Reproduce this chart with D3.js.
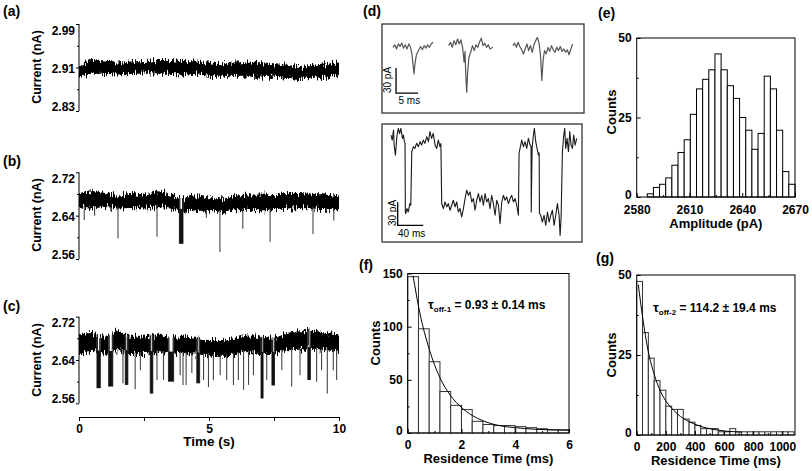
<!DOCTYPE html>
<html lang="en">
<head>
<meta charset="UTF-8" />
<title>Current traces and residence time histograms</title>
<script src="https://d3js.org/d3.v7.min.js"></script>
<style>
  body { margin: 0; background: #fff; }
  svg { display: block; font-family: "Liberation Sans", Arial, sans-serif; }
  .tick text { font-weight: bold; font-size: 12px; fill: #000; }
  .tick line { stroke: #000; }
</style>
</head>
<body>
<div id="chart"></div>
<script>
  // ---------- data ----------
  // (a)-(c): current traces, envelope of the noise band every 0.5 s (nA)
  const traceTimes = [0, 0.5, 1, 1.5, 2, 2.5, 3, 3.5, 4, 4.5, 5, 5.5, 6, 6.5, 7, 7.5, 8, 8.5, 9, 9.5, 10];

  const aUpper = [2.913, 2.924, 2.921, 2.919, 2.921, 2.922, 2.924, 2.924, 2.922, 2.921, 2.919, 2.918, 2.919, 2.919, 2.918, 2.916, 2.915, 2.911, 2.913, 2.916, 2.919];
  const aLower = [2.891, 2.899, 2.898, 2.897, 2.898, 2.899, 2.899, 2.898, 2.897, 2.897, 2.895, 2.893, 2.893, 2.893, 2.893, 2.893, 2.891, 2.889, 2.891, 2.893, 2.895];

  const bUpper = [2.679, 2.685, 2.682, 2.679, 2.682, 2.679, 2.685, 2.679, 2.672, 2.676, 2.672, 2.672, 2.676, 2.679, 2.679, 2.678, 2.682, 2.682, 2.680, 2.679, 2.676];
  const bLower = [2.656, 2.653, 2.656, 2.653, 2.654, 2.653, 2.656, 2.653, 2.647, 2.650, 2.647, 2.645, 2.650, 2.651, 2.650, 2.650, 2.653, 2.654, 2.653, 2.651, 2.650];
  // events: [start (s), end (s), lowest current (nA)]
  const bEvents = [
    [0.2, 0.2, 2.632], [0.6, 0.6, 2.640], [1.5, 1.5, 2.598], [3.0, 3.0, 2.601],
    [3.86, 4.0, 2.588], [4.9, 4.9, 2.636], [5.42, 5.42, 2.573], [6.3, 6.3, 2.616],
    [7.35, 7.35, 2.592], [9.0, 9.0, 2.606], [9.8, 9.8, 2.631]
  ];

  const cUpper = [2.687, 2.690, 2.683, 2.693, 2.683, 2.683, 2.687, 2.683, 2.683, 2.681, 2.677, 2.677, 2.681, 2.687, 2.683, 2.681, 2.690, 2.693, 2.694, 2.690, 2.687];
  const cLower = [2.651, 2.655, 2.651, 2.658, 2.651, 2.651, 2.655, 2.651, 2.651, 2.650, 2.649, 2.646, 2.649, 2.655, 2.651, 2.651, 2.658, 2.659, 2.661, 2.658, 2.655];
  const cEvents = [
    [0.69, 0.82, 2.588], [1.14, 1.30, 2.591], [1.69, 1.69, 2.597], [1.78, 1.88, 2.594],
    [2.16, 2.16, 2.586], [2.36, 2.36, 2.621], [2.74, 2.84, 2.578], [3.0, 3.0, 2.603],
    [3.25, 3.25, 2.603], [3.44, 3.64, 2.600], [3.89, 3.89, 2.612], [4.0, 4.0, 2.594],
    [4.12, 4.12, 2.594], [4.34, 4.34, 2.616], [4.53, 4.64, 2.597], [4.79, 4.79, 2.603],
    [4.98, 4.98, 2.590], [5.17, 5.17, 2.603], [5.43, 5.43, 2.612], [5.68, 5.68, 2.603],
    [5.94, 5.94, 2.594], [6.13, 6.13, 2.603], [6.33, 6.33, 2.585], [6.52, 6.52, 2.594],
    [6.71, 6.71, 2.612], [7.0, 7.08, 2.569], [7.22, 7.22, 2.603], [7.42, 7.52, 2.593],
    [7.8, 7.8, 2.621], [8.18, 8.18, 2.591], [8.5, 8.5, 2.612], [8.8, 8.9, 2.603],
    [9.14, 9.14, 2.600], [9.33, 9.33, 2.621], [9.55, 9.55, 2.578], [9.78, 9.78, 2.621],
    [9.91, 9.91, 2.603]
  ];

  // (d) top: three single events [time (ms), current (pA)]
  const dSnip1 = [[2.5,0],[2.9,3],[3.3,-2],[3.7,4],[4.1,1],[4.5,5],[4.9,-1],[5.3,3],[5.7,-2],[6.1,4],[6.5,0],[6.8,-8],[7.1,-22],[7.3,-32],[7.5,-20],[7.8,-10],[8.1,-6],[8.4,-3],[8.8,1],[9.2,-3],[9.6,2],[10.0,-1],[10.4,3],[10.8,0],[11.2,4],[11.6,6]];
  const dSnip2 = [[15.2,2],[15.6,6],[16.0,0],[16.4,8],[16.8,3],[17.2,10],[17.6,4],[18.0,9],[18.4,-2],[18.7,-18],[18.9,-5],[19.1,-35],[19.3,-54],[19.5,-30],[19.8,-12],[20.2,-6],[20.6,2],[21.0,-4],[21.4,3],[21.8,0],[22.2,6],[22.6,11],[23.0,2],[23.4,5],[23.8,0],[24.2,3],[24.6,-2],[25.2,0]];
  const dSnip3 = [[29.8,2],[30.2,5],[30.6,0],[31.0,6],[31.4,1],[31.8,-3],[32.2,-8],[32.6,-2],[33.0,4],[33.4,-4],[33.8,2],[34.2,-6],[34.6,3],[35.0,8],[35.4,12],[35.8,4],[36.1,-10],[36.4,-40],[36.7,-15],[37.0,-4],[37.4,-8],[37.8,0],[38.2,-5],[38.6,2],[39.0,-3],[39.4,-6],[39.8,0],[40.2,-4],[40.6,1],[41.0,-5],[41.4,-2],[41.8,-6],[42.2,-3],[42.6,-9],[43.0,-2],[43.4,4]];

  // (d) bottom: long trace [time (ms), current (pA)]
  const dTrace = [
    [14,13],[16,6.5],[18,19.5],[19,0],[21,-13],[23.5,13],[25.5,21.7],[27.5,15],[29.5,21.7],[32,8.7],[33.5,13],[35,4.4],[36,2],
    [36.5,-86.6],[37,-88.7],[39,-82.2],[41,-86.6],[43.5,-75.7],[45,-78],
    [46.5,-8.6],[49,-2.1],[51.5,-4.3],[54,2.2],[57,-2.1],[59.5,4.4],[62,0],[64.5,6.5],[67,2.2],[70,10.9],[72.5,4.4],[75,17.4],[77.5,8.7],[80,15.2],[83,0],[85.5,-4.3],[88,6.5],[90.5,-2.1],[92,2],
    [93.3,-75.7],[95.9,-82.2],[98.5,-73.6],[101.1,-80.1],[103.7,-75.7],[106.3,-84.4],[108.9,-77.9],[111.5,-71.4],[114.1,-80.1],[116.7,-73.6],
    [119.3,-86.6],[121.9,-82.2],[124.5,-93.1],[127.2,-82.2],[129.8,-69.3],[132.4,-58.4],[135,-65],[137.6,-60.6],[140.2,-73.6],[142.8,-69.3],
    [145.4,-84.4],[148,-71.4],[150.6,-62.8],[153.2,-73.6],[155.8,-65],[158.4,-77.9],[161,-62.8],[163.6,-73.6],[166.2,-69.3],[168.8,-82.2],
    [171.4,-65],[174,-75.7],[176.7,-90.9],[179.3,-71.4],[181.9,-77.9],[184.5,-101.7],[187.1,-73.6],[189.7,-65],[192.3,-71.4],[194.9,-67.1],
    [197.5,-75.7],[200.1,-69.3],[202.7,-65],[205.3,-73.6],[207.9,-69.3],[210.5,-77.9],[213.1,-90.9],
    [214.2,-10],[215.7,-4.3],[218.3,6.5],[220.9,-2.1],[223.5,4.4],[226.1,-4.3],[228.7,8.7],[231.4,0],[232.9,-2],
    [233.2,-86.6],[234.5,-4.3],[236.6,13],[238.1,21.7],[240.2,4.4],[242.3,-4.3],[244.4,-13],[245.6,-10],
    [246,-88],[248,-90.9],[250.6,-99.6],[253.2,-90.9],[255.9,-103.9],[258.5,-86.6],[261.1,-99.6],[263.7,-90.9],[266.3,-84.4],[268.9,-103.9],
    [271.5,-90.9],[274.1,-75.7],[276.7,-90.9],[278.3,-116.9],[279.8,-95],
    [281.9,-8.6],[284,13],[285.5,21.7],[287.1,-4.3],[289.2,8.7],[291.3,-8.6],[293.4,17.4],[295.4,0],[297.5,-4.3],[299.6,13],[301.7,0],[304.3,8.7]
  ];

  // (e) amplitude histogram
  const ampBinStart = 2586, ampBinWidth = 3.5;
  const ampCounts = [1, 3, 4, 6, 10, 14, 18, 26, 34, 37, 40, 45, 40, 35, 31, 25, 21, 15, 20, 38, 34, 21, 8, 4];

  // (f) short residence times
  const fBinWidth = 0.4;
  const fCounts = [147, 98, 67, 39, 26, 22, 11, 8, 7, 7, 6, 5, 4, 3, 3];
  const fFit = [[0.2,148],[0.45,113],[0.8,79],[1.2,52],[1.6,35],[2.0,24],[2.4,16.5],[2.8,11.5],[3.4,7],[4.0,5],[4.7,3.6],[5.3,3],[6,2.6]];

  // (g) long residence times
  const gBinWidth = 40;
  const gCounts = [48, 32, 24, 17, 14, 9, 8, 8, 5, 4, 3, 2, 2, 2, 1, 1, 2, 1, 1, 1, 1, 1, 1, 1, 1, 1, 1];
  const gFit = [[11,47],[40,37],[80,26],[120,19],[165,13.5],[210,10],[252,7.8],[300,5.8],[355,4.3],[420,3],[480,2.2],[560,1.5],[640,1.1],[720,0.9]];

  // ---------- drawing ----------
  const svg = d3.select("#chart").append("svg").attr("width", 812).attr("height", 471);
  const defs = svg.append("defs");

  // jagged edge for the dense noise bands
  const jag = defs.append("filter").attr("id", "jag")
    .attr("x", "-2%").attr("y", "-80%").attr("width", "104%").attr("height", "260%")
    .attr("color-interpolation-filters", "sRGB");
  jag.append("feTurbulence").attr("type", "fractalNoise").attr("baseFrequency", "0.9 0.12")
    .attr("numOctaves", 2).attr("seed", 7).attr("result", "noise");
  jag.append("feColorMatrix").attr("in", "noise").attr("type", "matrix")
    .attr("values", "1 0 0 0 0  0 0 0 0 0.5  0 0 0 0 0  0 0 0 0 1").attr("result", "map");
  jag.append("feDisplacementMap").attr("in", "SourceGraphic").attr("in2", "map")
    .attr("scale", 14).attr("xChannelSelector", "G").attr("yChannelSelector", "R");

  function panelLabel(txt, x, y, anchor) {
    svg.append("text").attr("x", x).attr("y", y).attr("text-anchor", anchor || "start")
      .style("font-weight", "bold").style("font-size", "14px").text(txt);
  }

  function rotLabel(txt, x, y, size) {
    svg.append("text").attr("transform", `translate(${x},${y}) rotate(-90)`)
      .attr("text-anchor", "middle").style("font-weight", "bold")
      .style("font-size", (size || 13) + "px").text(txt);
  }

  const xT = d3.scaleLinear().domain([0, 10]).range([79, 339]);

  function tracePanel(upper, lower, events, ticks, top, bot) {
    const y = d3.scaleLinear().domain([ticks[0], ticks[2]]).range([bot, top]);
    const g = svg.append("g");
    const upAt = d3.scaleLinear().domain(traceTimes).range(upper);
    const loAt = d3.scaleLinear().domain(traceTimes).range(lower);

    const band = d3.area()
      .x((d, i) => xT(traceTimes[i]))
      .y0((d, i) => y(lower[i]))
      .y1(d => y(d))
      .curve(d3.curveMonotoneX);
    g.append("path").datum(upper).attr("d", band).attr("fill", "#000").attr("filter", "url(#jag)");

    events.forEach(([t0, t1, lvl]) => {
      if (t1 > t0) {
        const w = xT(t1) - xT(t0);
        // the trace leaves the open-pore band during a dwell
        g.append("rect").attr("x", xT(t0) + 1).attr("width", Math.max(w - 2, 0.8))
          .attr("y", y(upAt(t0)) - 6).attr("height", y(loAt(t0)) - y(upAt(t0)) + 4)
          .attr("fill", "#fff");
        [t0, t1].forEach(t => {
          g.append("line").attr("x1", xT(t)).attr("x2", xT(t))
            .attr("y1", y(upAt(t))).attr("y2", y(lvl))
            .attr("stroke", "#444").attr("stroke-width", 1);
        });
        g.append("rect").attr("x", xT(t0)).attr("width", Math.max(w, 1.5))
          .attr("y", y(loAt(t0)) - 2).attr("height", y(lvl) - y(loAt(t0)) + 2)
          .attr("fill", "#111");
      } else {
        g.append("line").attr("x1", xT(t0)).attr("x2", xT(t0))
          .attr("y1", y(loAt(t0)) - 2).attr("y2", y(lvl))
          .attr("stroke", "#444").attr("stroke-width", 1.1);
      }
    });

    // y axis, bracket style
    const ax = g.append("g").attr("transform", "translate(79,0)")
      .call(d3.axisLeft(y).tickValues(ticks).tickSizeInner(3).tickSizeOuter(0).tickPadding(1)
        .tickFormat(d3.format(".2f")));
    ax.select(".domain").remove();
    ax.selectAll(".tick text").attr("dy", (d, i) => i === 0 ? "-0.05em" : i === 2 ? "0.85em" : "0.4em");
    g.append("g").attr("transform", "translate(79,0)")
      .call(d3.axisLeft(y).tickValues([(ticks[0] + ticks[1]) / 2, (ticks[1] + ticks[2]) / 2])
        .tickSizeInner(2).tickSizeOuter(0).tickFormat(""))
      .select(".domain").remove();
    g.append("line").attr("x1", 79).attr("x2", 79).attr("y1", top).attr("y2", bot)
      .attr("stroke", "#000");
    return y;
  }

  // (a)
  panelLabel("(a)", 3, 16);
  tracePanel(aUpper, aLower, [], [2.83, 2.91, 2.99], 24, 111);
  rotLabel("Current (nA)", 41, 67, 12.5);

  // (b)
  panelLabel("(b)", 3, 166);
  tracePanel(bUpper, bLower, bEvents, [2.56, 2.64, 2.72], 172.3, 259);
  rotLabel("Current (nA)", 41, 215, 12.5);

  // (c)
  panelLabel("(c)", 3, 311);
  tracePanel(cUpper, cLower, cEvents, [2.56, 2.64, 2.72], 316.7, 403.3);
  rotLabel("Current (nA)", 41, 360, 12.5);

  const tAx = svg.append("g").attr("transform", "translate(0,417)")
    .call(d3.axisBottom(xT).tickValues([0, 5, 10]).tickSizeInner(4).tickSizeOuter(0).tickPadding(3));
  svg.append("g").attr("transform", "translate(0,417)")
    .call(d3.axisBottom(xT).tickValues([2.5, 7.5]).tickSizeInner(4).tickSizeOuter(0).tickFormat(""))
    .select(".domain").remove();
  tAx.select(".domain").attr("stroke", "#000");
  svg.append("text").attr("x", 209).attr("y", 446).attr("text-anchor", "middle")
    .style("font-weight", "bold").style("font-size", "13.5px").text("Time (s)");

  // (d)
  panelLabel("(d)", 381, 16, "end");
  const dTopX = d3.scaleLinear().domain([0, 46]).range([382, 584]);
  const dTopY = d3.scaleLinear().domain([-79, 28]).range([113, 24]);
  const dBotX = d3.scaleLinear().domain([0, 312.5]).range([382, 582]);
  const dBotY = d3.scaleLinear().domain([-125.5, 27.3]).range([242, 124]);

  svg.append("rect").attr("x", 382).attr("y", 24).attr("width", 202).attr("height", 89)
    .attr("fill", "none").attr("stroke", "#333").attr("stroke-width", 1.3);
  svg.append("rect").attr("x", 382).attr("y", 124).attr("width", 200).attr("height", 118)
    .attr("fill", "none").attr("stroke", "#333").attr("stroke-width", 1.3);

  const topLine = d3.line().x(d => dTopX(d[0])).y(d => dTopY(d[1]));
  [dSnip1, dSnip2, dSnip3].forEach(s => {
    svg.append("path").datum(s).attr("d", topLine).attr("fill", "none")
      .attr("stroke", "#555").attr("stroke-width", 1.2).attr("stroke-linejoin", "round");
  });
  const botLine = d3.line().x(d => dBotX(d[0])).y(d => dBotY(d[1]));
  svg.append("path").datum(dTrace).attr("d", botLine).attr("fill", "none")
    .attr("stroke", "#1a1a1a").attr("stroke-width", 1.1).attr("stroke-linejoin", "round");

  // scale bars
  function scaleBar(xs, ys, t, p, dt, dp, txtT, txtX, txtY, lblX, lblY) {
    svg.append("path")
      .attr("d", `M${xs(t)},${ys(p + dp)}V${ys(p)}H${xs(t + dt)}`)
      .attr("fill", "none").attr("stroke", "#000").attr("stroke-width", 1.3);
    svg.append("text").attr("transform", `translate(${lblX},${lblY}) rotate(-90)`)
      .attr("text-anchor", "middle").style("font-size", "10px").text(`${dp} pA`);
    svg.append("text").attr("x", txtX).attr("y", txtY).style("font-size", "10px").text(txtT);
  }
  scaleBar(dTopX, dTopY, 3.2, -55, 5, 30, "5 ms", 398.5, 103.5, 391, 80);
  scaleBar(dBotX, dBotY, 24.5, -104, 40, 30, "40 ms", 398, 236.5, 395.5, 213);

  // histogram panels
  function histPanel(o) {
    const x = d3.scaleLinear().domain(o.xDom).range([o.x0, o.x1]);
    const y = d3.scaleLinear().domain(o.yDom).range([o.y0, o.y1]);
    const g = svg.append("g");
    g.selectAll("rect.bar").data(o.counts).join("rect").attr("class", "bar")
      .attr("x", (d, i) => x(o.binStart + i * o.binWidth))
      .attr("width", x(o.binStart + o.binWidth) - x(o.binStart))
      .attr("y", d => y(d))
      .attr("height", d => y(0) - y(d))
      .attr("fill", "#fff").attr("stroke", o.barStroke).attr("stroke-width", 1);
    if (o.fit) {
      g.append("path").datum(o.fit)
        .attr("d", d3.line().x(d => x(d[0])).y(d => y(d[1])).curve(d3.curveMonotoneX))
        .attr("fill", "none").attr("stroke", "#000").attr("stroke-width", 1);
    }
    const xa = g.append("g").attr("transform", `translate(0,${o.y0})`)
      .call(d3.axisBottom(x).tickValues(o.xTicks).tickSizeInner(-4).tickSizeOuter(0).tickPadding(o.xPad || 7)
        .tickFormat(d3.format("d")));
    xa.select(".domain").remove();
    g.append("g").attr("transform", `translate(0,${o.y0})`)
      .call(d3.axisBottom(x).tickValues(o.xMinor).tickSizeInner(-2).tickSizeOuter(0).tickFormat(""))
      .select(".domain").remove();
    const ya = g.append("g").attr("transform", `translate(${o.x0},0)`)
      .call(d3.axisLeft(y).tickValues(o.yTicks).tickSizeInner(-4).tickSizeOuter(0).tickPadding(5)
        .tickFormat(d3.format("d")));
    ya.select(".domain").remove();
    // lift the zero label slightly clear of the x labels
    ya.selectAll(".tick text").filter(d => d === 0).attr("dy", "0.1em");
    g.append("g").attr("transform", `translate(${o.x0},0)`)
      .call(d3.axisLeft(y).tickValues(o.yMinor).tickSizeInner(-2).tickSizeOuter(0).tickFormat(""))
      .select(".domain").remove();
    g.append("rect").attr("x", o.x0).attr("y", o.y1).attr("width", o.x1 - o.x0).attr("height", o.y0 - o.y1)
      .attr("fill", "none").attr("stroke", "#000").attr("stroke-width", 1);
    svg.append("text").attr("x", (o.x0 + o.x1) / 2).attr("y", o.xTitleY).attr("text-anchor", "middle")
      .style("font-weight", "bold").style("font-size", "13px").text(o.xTitle);
    rotLabel("Counts", o.yTitleX, o.yTitleY, 13);
  }

  function tauLabel(x, y, sub, rest) {
    const t = svg.append("text").attr("x", x).attr("y", y).style("font-weight", "bold");
    t.append("tspan").style("font-size", "13px").text("τ");
    t.append("tspan").style("font-size", "8px").attr("dy", 3).text(sub);
    t.append("tspan").style("font-size", "12px").attr("dy", -3).text(rest);
  }

  // (e)
  panelLabel("(e)", 598, 18);
  histPanel({
    x0: 636.7, x1: 795, y0: 197, y1: 38,
    xDom: [2580, 2670], yDom: [0, 50],
    xTicks: [2580, 2610, 2640, 2670], xMinor: [2595, 2625, 2655],
    yTicks: [0, 25, 50], yMinor: [12.5, 37.5],
    counts: ampCounts, binStart: ampBinStart, binWidth: ampBinWidth, barStroke: "#000", xPad: 8,
    xTitle: "Amplitude (pA)", xTitleY: 228, yTitleX: 616, yTitleY: 112
  });

  // (f)
  panelLabel("(f)", 359, 270);
  histPanel({
    x0: 407.7, x1: 569, y0: 433, y1: 273.5,
    xDom: [0, 6], yDom: [0, 150],
    xTicks: [0, 2, 4, 6], xMinor: [1, 3, 5],
    yTicks: [0, 50, 100, 150], yMinor: [25, 75, 125],
    counts: fCounts, binStart: 0, binWidth: fBinWidth, barStroke: "#333", fit: fFit,
    xTitle: "Residence Time (ms)", xTitleY: 463, yTitleX: 380, yTitleY: 343
  });
  tauLabel(428, 308.5, "off-1", " = 0.93 ± 0.14 ms");

  // (g)
  panelLabel("(g)", 596, 263);
  histPanel({
    x0: 636.7, x1: 795, y0: 435, y1: 275,
    xDom: [0, 1087], yDom: [0, 50],
    xTicks: [0, 200, 400, 600, 800, 1000], xMinor: [100, 300, 500, 700, 900],
    yTicks: [0, 25, 50], yMinor: [12.5, 37.5],
    counts: gCounts, binStart: 0, binWidth: gBinWidth, barStroke: "#333", fit: gFit,
    xTitle: "Residence Time (ms)", xTitleY: 465, yTitleX: 616, yTitleY: 355
  });
  tauLabel(653, 312, "off-2", " = 114.2 ± 19.4 ms");
</script>
</body>
</html>
